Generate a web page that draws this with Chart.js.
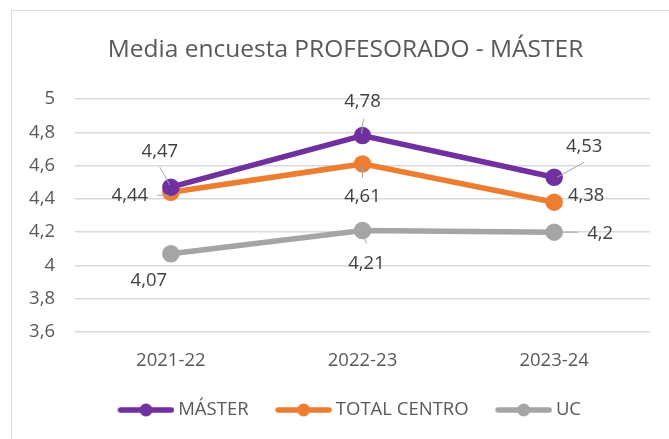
<!DOCTYPE html>
<html>
<head>
<meta charset="utf-8">
<script src="https://cdn.jsdelivr.net/npm/chart.js@4"></script>
<style>
  html, body { margin: 0; padding: 0; background: #fff; }
  #wrap { position: absolute; left: 11px; top: 10px; width: 658px; height: 429px;
          border-left: 1px solid #d9d9d9; border-top: 1px solid #d9d9d9; box-sizing: border-box; }
</style>
</head>
<body>
<div id="wrap"><canvas id="grafico"></canvas></div>
<script>
const categorias = ['2021-22', '2022-23', '2023-24'];
const master = [4.47, 4.78, 4.53];
const totalCentro = [4.44, 4.61, 4.38];
const uc = [4.07, 4.21, 4.2];
const series = ['MÁSTER', 'TOTAL CENTRO', 'UC'];
const colores = ['#7030A0', '#ED7D31', '#A5A5A5'];

// posicion de etiquetas respecto al punto: [dx, dy, lineaGuia]
const etiquetas = [
    [[-11, -35, [-11, -20, -1, -2]], [0, -34, [1, -17, -1, -2]], [30, -30, [30, -15, 3, 0]]],
    [[-41, 4, [-14, 3, -2, 3]], [0, 33, [0, 2, 0, 14]], [32, -6, null]],
    [[-22, 27, null], [4, 33, [1, 5, 4, 13]], [46, 2, [6, 0, 24, 0]]]
];

const fuente = "'Open Sans', sans-serif";
const coma = v => String(Math.round(v * 100) / 100).replace('.', ',');

function iconoLeyenda(color) {
    const c = document.createElement('canvas');
    c.width = 78; c.height = 16;
    const ctx = c.getContext('2d');
    ctx.strokeStyle = color; ctx.lineWidth = 5.5; ctx.lineCap = 'round';
    ctx.beginPath(); ctx.moveTo(24, 8); ctx.lineTo(75, 8); ctx.stroke();
    ctx.fillStyle = color;
    ctx.beginPath(); ctx.arc(49.5, 8, 6.5, 0, Math.PI * 2); ctx.fill();
    return c;
}

const pluginEtiquetas = {
    id: 'etiquetas',
    afterLayout(chart) {
        // la leyenda va algo desplazada a la izquierda en el original
        chart.legend.left -= 21;
        chart.legend.right -= 21;
    },
    afterDatasetsDraw(chart) {
        const ctx = chart.ctx;
        ctx.save();
        chart.data.datasets.forEach((ds, i) => {
            chart.getDatasetMeta(i).data.forEach((pt, j) => {
                const [dx, dy, guia] = etiquetas[i][j];
                if (guia) {
                    ctx.strokeStyle = '#A6A6A6'; ctx.lineWidth = 1;
                    ctx.beginPath();
                    ctx.moveTo(pt.x + guia[0], pt.y + guia[1]);
                    ctx.lineTo(pt.x + guia[2], pt.y + guia[3]);
                    ctx.stroke();
                }
                ctx.fillStyle = '#404040';
                ctx.font = '18.5px ' + fuente;
                ctx.textAlign = 'center'; ctx.textBaseline = 'middle';
                ctx.fillText(coma(ds.data[j]), pt.x + dx, pt.y + dy);
            });
        });
        ctx.restore();
    }
};

const datos = [master, totalCentro, uc];

new Chart(document.getElementById('grafico').getContext('2d'), {
    type: 'line',
    data: {
        labels: categorias,
        datasets: series.map((s, i) => ({
            label: s, data: datos[i],
            borderColor: colores[i], backgroundColor: colores[i],
            borderWidth: 5.5, pointRadius: 6, pointHoverRadius: 6,
            pointStyle: 'circle', tension: 0
        }))
    },
    options: {
        responsive: true, maintainAspectRatio: false, animation: false,
        events: [],
        layout: { padding: { left: 10, right: 0, top: 0, bottom: 9.75 } },
        plugins: {
            title: {
                display: true, text: 'Media encuesta PROFESORADO - MÁSTER',
                color: '#595959', font: { family: fuente, size: 24.5, weight: 'normal' },
                padding: { top: 24.3, bottom: 34.3 }
            },
            legend: {
                position: 'bottom', fullSize: false,
                labels: {
                    color: '#595959', font: { family: fuente, size: 18.5 },
                    usePointStyle: true, pointStyleWidth: 67, padding: 11,
                    generateLabels: chart => chart.data.datasets.map((ds, i) => ({
                        text: ds.label, pointStyle: iconoLeyenda(colores[i]),
                        fillStyle: colores[i], strokeStyle: colores[i], lineWidth: 0,
                        fontColor: '#595959', datasetIndex: i
                    }))
                }
            },
            tooltip: { enabled: false }
        },
        scales: {
            x: {
                offset: true,
                grid: { display: false, drawTicks: false },
                border: { display: false },
                ticks: { color: '#595959', font: { family: fuente, size: 18.5 }, padding: 18 },
                afterFit: s => { s.height = 57.75; }
            },
            y: {
                min: 3.6, max: 5,
                ticks: { stepSize: 0.2, color: '#595959', font: { family: fuente, size: 18.5 },
                         padding: 20, callback: v => coma(v) },
                grid: { color: '#d9d9d9', lineWidth: 1.5, drawTicks: false },
                border: { display: false },
                afterFit: s => { s.width = 53; }
            },
            y2: {
                position: 'right',
                grid: { display: false }, border: { display: false },
                ticks: { display: false },
                afterFit: s => { s.width = 19; }
            }
        }
    },
    plugins: [pluginEtiquetas]
});
</script>
</body>
</html>
